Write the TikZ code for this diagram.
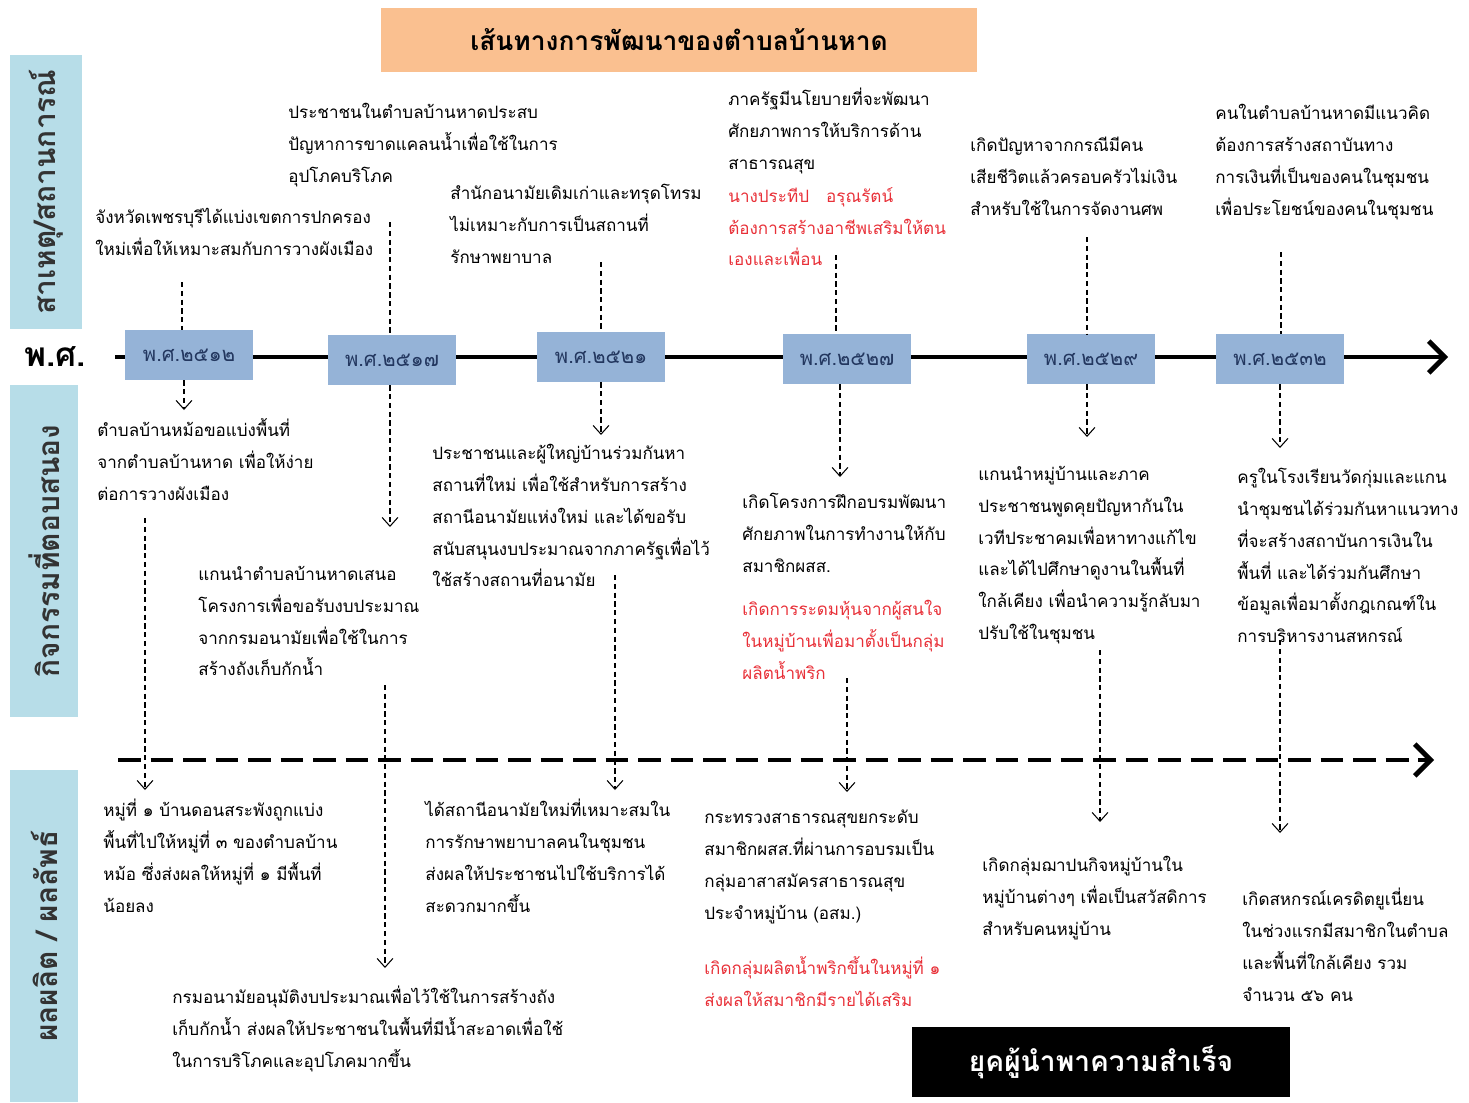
\documentclass[tikz,border=0pt]{standalone}
\usepackage{fontspec}
\newfontfamily\thaifont[Script=Thai]{Loma}
\usetikzlibrary{arrows.meta}
\definecolor{titleorange}{RGB}{250,192,144}
\definecolor{sideblue}{RGB}{183,221,232}
\definecolor{yearblue}{RGB}{149,179,215}
\definecolor{yeartext}{RGB}{35,55,95}
\definecolor{thred}{RGB}{232,48,56}
\tikzset{
	txt/.style={anchor=north west, inner sep=0pt, align=left, font=\thaifont\fontsize{9.7}{18.1}\selectfont},
	redtxt/.style={txt, text=thred},
	sidebox/.style={fill=sideblue, rotate=90, minimum height=1.36cm, font=\thaifont\bfseries\fontsize{17}{20}\selectfont, text=black!80},
	yearbox/.style={fill=yearblue, minimum width=2.56cm, minimum height=1.0cm, font=\thaifont\fontsize{11.5}{14}\selectfont, text=yeartext},
	cline/.style={dash pattern=on 3pt off 2pt, line width=0.6pt},
	carrow/.style={cline, -{Straight Barb[length=5pt,width=9pt]}},
	tline/.style={line width=2.8pt, -{Straight Barb[length=9pt,width=18pt]}},
	dline/.style={line width=2.8pt, dash pattern=on 13pt off 5.5pt, -{Straight Barb[length=9pt,width=18pt]}}
}
\begin{document}
\begin{tikzpicture}[x=0.02cm,y=-0.02cm]
	\useasboundingbox (0,0) rectangle (1469,1102);
	
	\node [fill=titleorange, minimum width=11.92cm, minimum height=1.28cm, font=\thaifont\bfseries\fontsize{15}{18}\selectfont] (title) at (679,40) {เส้นทางการพัฒนาของตำบลบ้านหาด};
	
	\node [sidebox, minimum width=5.5cm, minimum height=1.44cm] (side1) at (46,192) {สาเหตุ/สถานการณ์};
	\node [sidebox, minimum width=6.66cm] (side2) at (44,551) {กิจกรรมที่ตอบสนอง};
	\node [sidebox, minimum width=6.64cm] (side3) at (44,936) {ผลผลิต / ผลลัพธ์};
	
	\node [font=\thaifont\bfseries\fontsize{19}{21}\selectfont] (ps) at (55,357) {พ.ศ.};
	\coordinate (tstart) at (115,357);
	\coordinate (tend) at (1448,357);
	\draw [tline] (tstart) -- (tend);
	\coordinate (dstart) at (118,760);
	\coordinate (dend) at (1434,760);
	\draw [dline] (dstart) -- (dend);
	
	\node [yearbox] (yr1) at (189,355) {พ.ศ.๒๕๑๒};
	\node [yearbox] (yr2) at (392,360) {พ.ศ.๒๕๑๗};
	\node [yearbox] (yr3) at (601,357) {พ.ศ.๒๕๒๑};
	\node [yearbox] (yr4) at (847,359) {พ.ศ.๒๕๒๗};
	\node [yearbox] (yr5) at (1091,359) {พ.ศ.๒๕๒๙};
	\node [yearbox] (yr6) at (1280,359) {พ.ศ.๒๕๓๒};
	
	% causes
	\node [txt] (c1) at (95,208) {จังหวัดเพชรบุรีได้แบ่งเขตการปกครอง\\ใหม่เพื่อให้เหมาะสมกับการวางผังเมือง};
	\node [txt] (c2) at (288,103) {ประชาชนในตำบลบ้านหาดประสบ\\ปัญหาการขาดแคลนน้ำเพื่อใช้ในการ\\อุปโภคบริโภค};
	\node [txt] (c3) at (450,184) {สำนักอนามัยเดิมเก่าและทรุดโทรม\\ไม่เหมาะกับการเป็นสถานที่\\รักษาพยาบาล};
	\node [txt] (c4) at (728,88) {ภาครัฐมีนโยบายที่จะพัฒนา\\ศักยภาพการให้บริการด้าน\\สาธารณสุข};
	\node [redtxt] (c4r) at (728,187) {นางประทีป\quad อรุณรัตน์\\ต้องการสร้างอาชีพเสริมให้ตน\\เองและเพื่อน};
	\node [txt] (c5) at (970,137) {เกิดปัญหาจากกรณีมีคน\\เสียชีวิตแล้วครอบครัวไม่เงิน\\สำหรับใช้ในการจัดงานศพ};
	\node [txt] (c6) at (1215,104) {คนในตำบลบ้านหาดมีแนวคิด\\ต้องการสร้างสถาบันทาง\\การเงินที่เป็นของคนในชุมชน\\เพื่อประโยชน์ของคนในชุมชน};
	
	% activities
	\node [txt] (a1) at (97,418) {ตำบลบ้านหม้อขอแบ่งพื้นที่\\จากตำบลบ้านหาด เพื่อให้ง่าย\\ต่อการวางผังเมือง};
	\node [txt] (a2) at (198,566) {แกนนำตำบลบ้านหาดเสนอ\\โครงการเพื่อขอรับงบประมาณ\\จากกรมอนามัยเพื่อใช้ในการ\\สร้างถังเก็บกักน้ำ};
	\node [txt] (a3) at (432,444) {ประชาชนและผู้ใหญ่บ้านร่วมกันหา\\สถานที่ใหม่ เพื่อใช้สำหรับการสร้าง\\สถานีอนามัยแห่งใหม่ และได้ขอรับ\\สนับสนุนงบประมาณจากภาครัฐเพื่อไว้\\ใช้สร้างสถานที่อนามัย};
	\node [txt] (a4) at (742,493) {เกิดโครงการฝึกอบรมพัฒนา\\ศักยภาพในการทำงานให้กับ\\สมาชิกผสส.};
	\node [redtxt] (a4r) at (742,600) {เกิดการระดมหุ้นจากผู้สนใจ\\ในหมู่บ้านเพื่อมาตั้งเป็นกลุ่ม\\ผลิตน้ำพริก};
	\node [txt] (a5) at (978,466) {แกนนำหมู่บ้านและภาค\\ประชาชนพูดคุยปัญหากันใน\\เวทีประชาคมเพื่อหาทางแก้ไข\\และได้ไปศึกษาดูงานในพื้นที่\\ใกล้เคียง เพื่อนำความรู้กลับมา\\ปรับใช้ในชุมชน};
	\node [txt] (a6) at (1237,468) {ครูในโรงเรียนวัดกุ่มและแกน\\นำชุมชนได้ร่วมกันหาแนวทาง\\ที่จะสร้างสถาบันการเงินใน\\พื้นที่ และได้ร่วมกันศึกษา\\ข้อมูลเพื่อมาตั้งกฎเกณฑ์ใน\\การบริหารงานสหกรณ์};
	
	% outputs
	\node [txt] (o1) at (103,799) {หมู่ที่ ๑ บ้านดอนสระพังถูกแบ่ง\\พื้นที่ไปให้หมู่ที่ ๓ ของตำบลบ้าน\\หม้อ ซึ่งส่งผลให้หมู่ที่ ๑ มีพื้นที่\\น้อยลง};
	\node [txt] (o2) at (172,986) {กรมอนามัยอนุมัติงบประมาณเพื่อไว้ใช้ในการสร้างถัง\\เก็บกักน้ำ ส่งผลให้ประชาชนในพื้นที่มีน้ำสะอาดเพื่อใช้\\ในการบริโภคและอุปโภคมากขึ้น};
	\node [txt] (o3) at (425,799) {ได้สถานีอนามัยใหม่ที่เหมาะสมใน\\การรักษาพยาบาลคนในชุมชน\\ส่งผลให้ประชาชนไปใช้บริการได้\\สะดวกมากขึ้น};
	\node [txt] (o4) at (704,810) {กระทรวงสาธารณสุขยกระดับ\\สมาชิกผสส.ที่ผ่านการอบรมเป็น\\กลุ่มอาสาสมัครสาธารณสุข\\ประจำหมู่บ้าน (อสม.)};
	\node [redtxt] (o4r) at (704,956) {เกิดกลุ่มผลิตน้ำพริกขึ้นในหมู่ที่ ๑\\ส่งผลให้สมาชิกมีรายได้เสริม};
	\node [txt] (o5) at (982,856) {เกิดกลุ่มฌาปนกิจหมู่บ้านใน\\หมู่บ้านต่างๆ เพื่อเป็นสวัสดิการ\\สำหรับคนหมู่บ้าน};
	\node [txt] (o6) at (1242,888) {เกิดสหกรณ์เครดิตยูเนี่ยน\\ในช่วงแรกมีสมาชิกในตำบล\\และพื้นที่ใกล้เคียง รวม\\จำนวน ๕๖ คน};
	
	\node [fill=black, text=white, minimum width=7.56cm, minimum height=1.4cm, font=\thaifont\bfseries\fontsize{16}{19}\selectfont] (era) at (1101,1062) {ยุคผู้นำพาความสำเร็จ};
	
	% cause -> year
	\coordinate (k1) at (182,282);
	\coordinate (k2) at (390,222);
	\coordinate (k3) at (601,262);
	\coordinate (k4) at (836,255);
	\coordinate (k5) at (1087,237);
	\coordinate (k6) at (1281,252);
	\draw [cline] (k1) -- (k1 |- yr1.north);
	\draw [cline] (k2) -- (k2 |- yr2.north);
	\draw [cline] (k3) -- (k3 |- yr3.north);
	\draw [cline] (k4) -- (k4 |- yr4.north);
	\draw [cline] (k5) -- (k5 |- yr5.north);
	\draw [cline] (k6) -- (k6 |- yr6.north);
	
	% year -> activity
	\coordinate (t1) at (184,410);
	\coordinate (t2) at (390,527);
	\coordinate (t3) at (601,435);
	\coordinate (t4) at (840,477);
	\coordinate (t5) at (1087,437);
	\coordinate (t6) at (1280,448);
	\draw [carrow] (yr1.south -| t1) -- (t1);
	\draw [carrow] (yr2.south -| t2) -- (t2);
	\draw [carrow] (yr3.south -| t3) -- (t3);
	\draw [carrow] (yr4.south -| t4) -- (t4);
	\draw [carrow] (yr5.south -| t5) -- (t5);
	\draw [carrow] (yr6.south -| t6) -- (t6);
	
	% activity -> output
	\coordinate (s1) at (145,518);
	\coordinate (s2) at (385,685);
	\coordinate (s3) at (615,575);
	\coordinate (s4) at (847,678);
	\coordinate (s5) at (1100,650);
	\coordinate (s6) at (1280,640);
	\coordinate (u1) at (145,790);
	\coordinate (u2) at (385,968);
	\coordinate (u3) at (615,790);
	\coordinate (u4) at (847,792);
	\coordinate (u5) at (1100,822);
	\coordinate (u6) at (1280,833);
	\draw [carrow] (s1) -- (u1);
	\draw [carrow] (s2) -- (u2);
	\draw [carrow] (s3) -- (u3);
	\draw [carrow] (s4) -- (u4);
	\draw [carrow] (s5) -- (u5);
	\draw [carrow] (s6) -- (u6);
\end{tikzpicture}
\end{document}
